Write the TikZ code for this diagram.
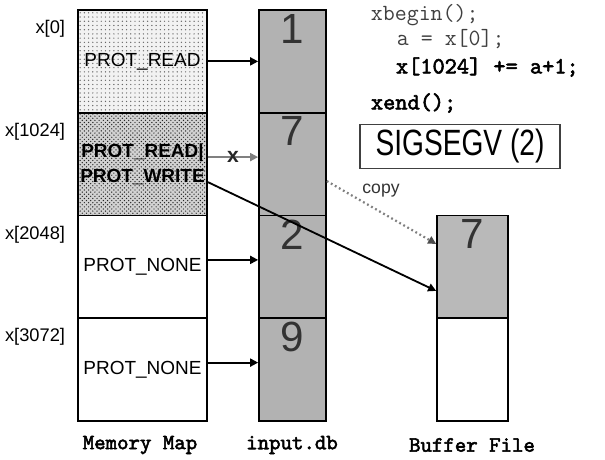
\documentclass[tikz,border=0pt]{standalone}
\usepackage{fontspec}
\setmainfont{Liberation Sans}
\newfontfamily\boldmono{lmmono10-regular.otf}[FakeBold=2.5]
\usetikzlibrary{arrows.meta,patterns}
\begin{document}
\begin{tikzpicture}[x=0.025cm,y=-0.025cm,
    >={Triangle[length=2mm,width=2mm]},
    cell/.style={draw,line width=1.2pt,minimum width=#1,minimum height=2.57cm,inner sep=0pt},
    mmcell/.style={cell=3.225cm,font=\fontsize{13.5}{15}\selectfont},
    dbcell/.style={cell=1.675cm,fill=gray!60},
    digit/.style={font=\fontsize{30}{30}\selectfont,text=black!80,anchor=north},
    addr/.style={anchor=east,font=\fontsize{13}{15}\selectfont},
    code/.style={anchor=west,font=\ttfamily\fontsize{16.5}{18}\selectfont},
    boldcode/.style={anchor=west,font=\boldmono\fontsize{16.5}{18}\selectfont},
    caption/.style={font=\boldmono\fontsize{15.5}{17}\selectfont},
    link/.style={->,line width=1.3pt}]
  \useasboundingbox (0,0) rectangle (605,460);
  \node[mmcell,preaction={fill=gray!10},pattern=dots,pattern color=black!60] (mm1) at (142.5,61.4) {PROT\_READ};
  \node[mmcell,preaction={fill=gray!35},pattern=crosshatch dots,pattern color=black!85,align=center,font=\bfseries\fontsize{13.5}{17.5}\selectfont] (mm2) at (142.5,164.1) {PROT\_READ|\\PROT\_WRITE};
  \node[mmcell] (mm3) at (142.5,266.9) {PROT\_NONE};
  \node[mmcell] (mm4) at (142.5,369.6) {PROT\_NONE};
  \node[addr] (a0) at (70,29) {x[0]};
  \node[addr] (a1) at (70,132) {x[1024]};
  \node[addr] (a2) at (70,235) {x[2048]};
  \node[addr] (a3) at (70,337) {x[3072]};
  \node[dbcell] (db1) at (292.5,61.4) {};
  \node[dbcell] (db2) at (292.5,164.1) {};
  \node[dbcell] (db3) at (292.5,266.9) {};
  \node[dbcell] (db4) at (292.5,369.6) {};
  \node[digit] (d1) at (db1.north) {1};
  \node[digit] (d2) at (db2.north) {7};
  \node[digit] (d3) at (db3.north) {2};
  \node[digit] (d4) at (db4.north) {9};
  \node[cell=1.775cm,fill=gray!55] (buf1) at (472.5,266.9) {};
  \node[cell=1.775cm] (buf2) at (472.5,369.6) {};
  \node[digit] (d5) at (buf1.north) {7};
  \draw[link] (mm1.east) -- (db1.west);
  \draw[link,gray] ([yshift=1.75mm]mm2.east) -- node[text=black!85,font=\bfseries\fontsize{15}{15}\selectfont] (xmark) {x} ([yshift=1.75mm]db2.west);
  \draw[link] ([yshift=1.75mm]mm3.east) -- ([yshift=1.75mm]db3.west);
  \draw[link] ([yshift=1.75mm]mm4.east) -- ([yshift=1.75mm]db4.west);
  \draw[link] ([yshift=-4.5mm]mm2.east) -- ([yshift=-6mm]buf1.west);
  \draw[link,gray,dotted,line width=1.6pt,-{Triangle[length=2mm,width=2mm,black!70]}] ([yshift=-4.25mm]db2.east) -- ([yshift=5.75mm]buf1.west);
  \node[font=\fontsize{12.5}{14}\selectfont,text=black!80] (cp) at (381,191) {copy};
  \node[code,text=black!75] (c1) at (366,15) {xbegin();};
  \node[code,text=black!75] (c2) at (392,39) {a = x[0];};
  \node[boldcode] (c3) at (391,67) {x[1024] += a+1;};
  \node[boldcode] (c4) at (366,103) {xend();};
  \node[draw,line width=0.8pt,draw=black!75,minimum width=5cm,minimum height=1.12cm,font=\fontsize{20}{20}\selectfont] (sig) at (460,146.5) {\scalebox{1}[1.3]{SIGSEGV (2)}};
  \node[caption] (l1) at (140,445) {Memory Map};
  \node[caption] (l2) at (292,445) {input.db};
  \node[caption] (l3) at (472,445) {Buffer File};
\end{tikzpicture}
\end{document}
